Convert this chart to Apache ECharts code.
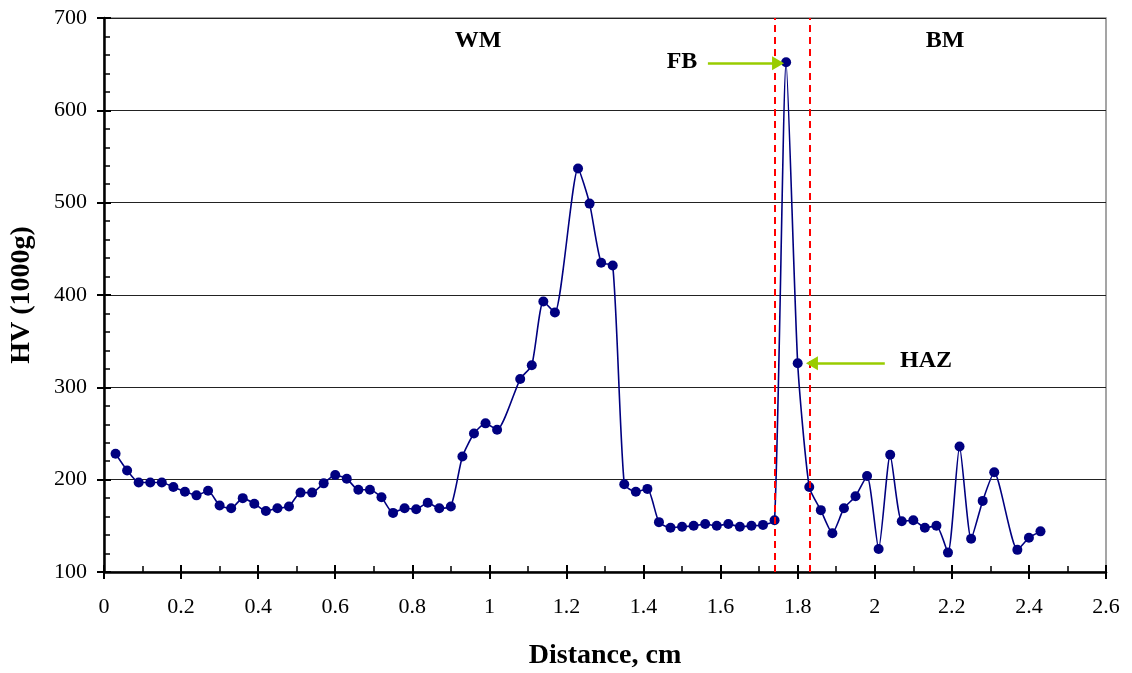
<!DOCTYPE html>
<html>
<head>
<meta charset="utf-8">
<script src="https://cdn.jsdelivr.net/npm/echarts@6/dist/echarts.min.js"></script>
<style>
  html, body { margin: 0; padding: 0; background: #fff; }
  #chart { width: 1132px; height: 673px; }
</style>
</head>
<body>
<div id="chart"></div>
<script>
// distance (cm) of each hardness reading
const distance = [0.03, 0.06, 0.09, 0.12, 0.15, 0.18, 0.21, 0.24, 0.27, 0.30,
  0.33, 0.36, 0.39, 0.42, 0.45, 0.48, 0.51, 0.54, 0.57, 0.60,
  0.63, 0.66, 0.69, 0.72, 0.75, 0.78, 0.81, 0.84, 0.87, 0.90,
  0.93, 0.96, 0.99, 1.02, 1.08, 1.11, 1.14, 1.17,
  1.23, 1.26, 1.29, 1.32, 1.35, 1.38, 1.41, 1.44, 1.47,
  1.50, 1.53, 1.56, 1.59, 1.62, 1.65, 1.68, 1.71, 1.74,
  1.77, 1.80, 1.83, 1.86, 1.89, 1.92, 1.95, 1.98, 2.01, 2.04,
  2.07, 2.10, 2.13, 2.16, 2.19, 2.22, 2.25, 2.28, 2.31,
  2.37, 2.40, 2.43];

// HV (1000g) readings
const hardness = [228, 210, 197, 197, 197, 192, 187, 183, 188, 172,
  169, 180, 174, 166, 169, 171, 186, 186, 196, 205,
  201, 189, 189, 181, 164, 169, 168, 175, 169, 171,
  225, 250, 261, 254, 309, 324, 393, 381,
  537, 499, 435, 432, 195, 187, 190, 154, 148,
  149, 150, 152, 150, 152, 149, 150, 151, 156,
  652, 326, 192, 167, 142, 169, 182, 204, 125, 227,
  155, 156, 148, 150, 121, 236, 136, 177, 208,
  124, 137, 144];

// zone boundaries (dashed red lines)
const boundaries = [1.735, 1.83];

// arrows: [from, to] in [distance, HV]
const fbArrow = [[1.567, 651], [1.749, 651]];
const hazArrow = [[2.026, 326], [1.837, 326]];

const points = distance.map((d, i) => [d, hardness[i]]);

const font = 'Liberation Serif';
const chart = echarts.init(document.getElementById('chart'));

const baseX = {
  type: 'value', min: 0, max: 2.6, interval: 0.2,
  splitLine: { show: false },
};
const baseY = {
  type: 'value', min: 100, max: 700, interval: 100,
};

function label(text, x, y) {
  return {
    type: 'text', x: x, y: y,
    style: { text: text, font: 'bold 24px ' + font, fill: '#000', align: 'center', verticalAlign: 'middle' },
  };
}

chart.setOption({
  animation: false,
  grid: {
    left: 104, right: 26, top: 18, bottom: 101,
    outerBoundsMode: 'none',
    show: true, borderColor: '#888', borderWidth: 1.5,
  },
  xAxis: [
    Object.assign({}, baseX, {
      axisLine: { lineStyle: { color: '#000', width: 2.5 } },
      axisTick: { inside: true, length: 7, lineStyle: { color: '#000', width: 2 } },
      minorTick: { show: true, splitNumber: 2, length: 6, lineStyle: { color: '#000', width: 1.5 } },
      axisLabel: { color: '#000', fontFamily: font, fontSize: 22, margin: 24,
        formatter: v => String(Math.round(v * 10) / 10) },
      name: 'Distance, cm', nameLocation: 'middle', nameGap: 70,
      nameTextStyle: { color: '#000', fontFamily: font, fontSize: 28, fontWeight: 'bold' },
    }),
    Object.assign({}, baseX, {
      position: 'bottom',
      axisLine: { show: false },
      axisTick: { inside: false, length: 7, lineStyle: { color: '#000', width: 2 } },
      axisLabel: { show: false },
    }),
  ],
  yAxis: [
    Object.assign({}, baseY, {
      axisLine: { show: true, lineStyle: { color: '#000', width: 2.5 } },
      axisTick: { show: true, inside: true, length: 7, lineStyle: { color: '#000', width: 2 } },
      minorTick: { show: true, splitNumber: 5, length: 6, lineStyle: { color: '#000', width: 1.5 } },
      splitLine: { show: true, lineStyle: { color: '#222', width: 1 } },
      axisLabel: { color: '#000', fontFamily: font, fontSize: 22, margin: 17 },
      name: 'HV (1000g)', nameLocation: 'middle', nameGap: 68,
      nameTextStyle: { color: '#000', fontFamily: font, fontSize: 28, fontWeight: 'bold' },
    }),
    Object.assign({}, baseY, {
      position: 'left',
      axisLine: { show: false },
      axisTick: { show: true, inside: false, length: 7, lineStyle: { color: '#000', width: 2 } },
      splitLine: { show: false },
      axisLabel: { show: false },
    }),
  ],
  series: [
    {
      type: 'line',
      data: points,
      smooth: 0.2,
      symbol: 'circle',
      symbolSize: 10,
      lineStyle: { color: '#000080', width: 1.6 },
      itemStyle: { color: '#000080' },
      z: 3,
      markLine: {
        silent: true,
        symbol: 'none',
        label: { show: false },
        lineStyle: { color: '#ff0000', type: [7, 5], width: 2 },
        data: boundaries.map(b => ({ xAxis: b })),
      },
    },
    {
      type: 'line',
      data: [],
      markLine: {
        silent: true,
        symbol: ['none', 'triangle'],
        symbolSize: [14, 12],
        label: { show: false },
        lineStyle: { color: '#99cc00', type: 'solid', width: 2.5 },
        data: [
          [{ coord: fbArrow[0] }, { coord: fbArrow[1] }],
          [{ coord: hazArrow[0] }, { coord: hazArrow[1] }],
        ],
      },
    },
  ],
  graphic: [
    label('WM', 478, 41),
    label('BM', 945, 41),
    label('FB', 682, 62),
    label('HAZ', 926, 361),
  ],
});
</script>
</body>
</html>
